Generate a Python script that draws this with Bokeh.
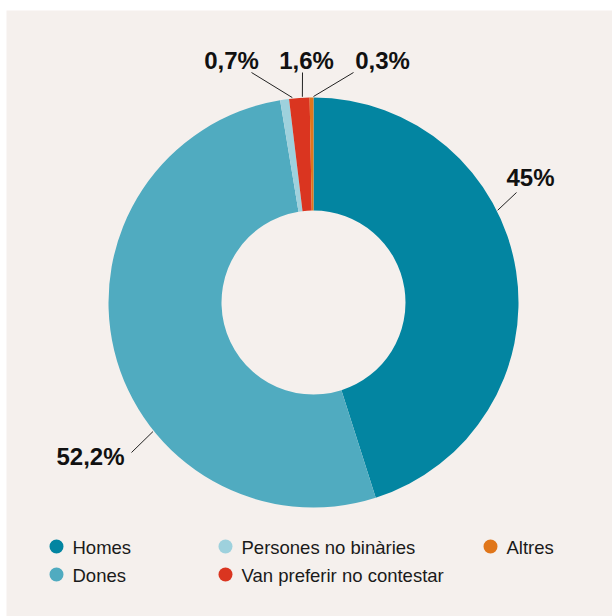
import math
from bokeh.plotting import figure
from bokeh.models import Range1d
from bokeh.core.properties import value
from bokeh.embed import file_html
from bokeh.resources import INLINE

# ---------------- data ----------------
categories = ["Homes", "Dones", "Persones no binàries", "Van preferir no contestar", "Altres"]
shares = [45.0, 52.2, 0.7, 1.6, 0.3]
labels = ["45%", "52,2%", "0,7%", "1,6%", "0,3%"]
colors = ["#0385a1", "#50abc0", "#9ed1dd", "#da3520", "#e0761a"]

# ---------------- layout (pixel positions, image coordinates) ----------------
W, H = 612, 616
PANEL_LEFT, PANEL_TOP = 6, 10
CX, CY = 313, 302
R_OUT, R_IN = 205, 92
label_anchor_deg = [63.4, 231.2, 354.1, 356.9, 0.0]     # clockwise from 12 o'clock
label_elbow = [(516, 192), (131, 452), (251, 72), (302, 72), (353, 72)]
label_text_pos = [(530, 177), (90, 456), (231, 60), (306, 60), (382, 60)]
legend_marker_pos = [(56, 546), (56, 574), (225, 546), (225, 574), (490, 546)]
LEGEND_TEXT_DX = 16

FONT = "Liberation Sans"
BG = "#f5f0ed"


def Y(yi):
    return H - yi


p = figure(width=W, height=H, output_backend="svg", toolbar_location=None,
           x_range=Range1d(PANEL_LEFT, W), y_range=Range1d(0, H - PANEL_TOP),
           x_axis_type=None, y_axis_type=None,
           min_border_left=PANEL_LEFT, min_border_top=PANEL_TOP,
           min_border_right=0, min_border_bottom=0,
           background_fill_color=BG, border_fill_color="white",
           outline_line_color=None)
p.grid.visible = False

# ---------------- donut ----------------
total = sum(shares)
starts, ends = [], []
acc = 0.0
for s in shares:
    a0 = acc / total * 2 * math.pi
    acc += s
    a1 = acc / total * 2 * math.pi
    starts.append(math.pi / 2 - a0)
    ends.append(math.pi / 2 - a1)

p.annular_wedge(x=CX, y=Y(CY), inner_radius=R_IN, outer_radius=R_OUT,
                start_angle=starts, end_angle=ends, direction="clock",
                fill_color=colors, line_color=None)

# ---------------- labels with leader lines ----------------
xs, ys = [], []
for ang, (ex, ey) in zip(label_anchor_deg, label_elbow):
    a = math.radians(ang)
    sx = CX + (R_OUT + 1) * math.sin(a)
    sy = CY - (R_OUT + 1) * math.cos(a)
    xs.append([sx, ex])
    ys.append([Y(sy), Y(ey)])
p.multi_line(xs=xs, ys=ys, line_color="#222222", line_width=1)

p.text(x=[t[0] for t in label_text_pos], y=[Y(t[1]) for t in label_text_pos],
       text=labels, text_font=value(FONT), text_font_style="bold",
       text_font_size="24px", text_color="#111111",
       text_align="center", text_baseline="middle")

# ---------------- legend ----------------
p.scatter(x=[m[0] for m in legend_marker_pos], y=[Y(m[1]) for m in legend_marker_pos],
          size=14, marker="circle", fill_color=colors, line_color=None)
p.text(x=[m[0] + LEGEND_TEXT_DX for m in legend_marker_pos],
       y=[Y(m[1] + 1) for m in legend_marker_pos],
       text=categories, text_font=value(FONT), text_font_size="18.5px",
       text_color="#1a1a1a", text_align="left", text_baseline="middle")

open("out.html", "w").write(file_html(p, INLINE))
